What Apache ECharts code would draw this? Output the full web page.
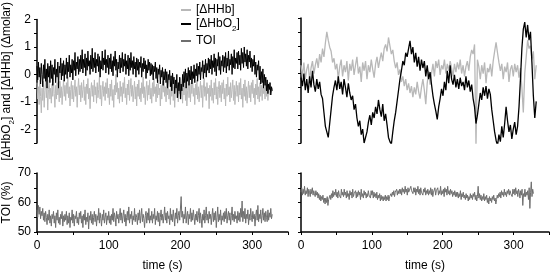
<!DOCTYPE html>
<html><head><meta charset="utf-8">
<script src="https://cdn.jsdelivr.net/npm/echarts@6/dist/echarts.min.js"></script>
<style>html,body{margin:0;padding:0;background:#fff}#c{width:552px;height:273px}</style>
</head><body><div id="c"></div>
<script>
// sample intervals (s) of the traces
const fineStep = 1;
const coarseStep = 2;
const xTicks = [0, 100, 200, 300];

// Left (first recording) [ΔHbO2], 1 s samples
const leftHbO2 = [
 0.3,-0.2,0.45,-0.1,0.25,-0.35,0.4,0.0,-0.45,0.35,-0.15,0.55,-0.25,0.2,-0.5,0.4,-0.1,0.3,-0.3,0.5,
 -0.15,0.35,-0.4,0.25,0.0,0.55,-0.3,0.2,-0.1,0.45,-0.5,0.3,0.05,0.6,-0.2,0.4,-0.05,0.5,-0.25,0.35,
 0.0,0.6,-0.15,0.45,0.1,0.7,-0.1,0.35,0.05,0.55,-0.2,0.5,0.15,0.8,-0.05,0.45,0.2,0.65,0.0,0.55,
 0.1,0.7,0.2,0.9,0.05,0.55,0.25,0.75,-0.05,0.6,0.15,0.85,0.3,0.5,0.0,0.7,0.2,0.95,0.1,0.6,
 0.25,0.8,0.05,0.55,0.3,0.75,0.1,0.65,-0.1,0.5,0.2,0.85,0.15,0.6,0.35,0.9,0.05,0.55,0.25,0.7,
 0.0,0.6,0.2,0.75,0.1,0.5,-0.05,0.65,0.3,0.85,0.15,0.55,-0.1,0.45,0.2,0.7,0.05,0.6,0.25,0.8,
 0.1,0.55,0.3,0.75,0.0,0.5,0.2,0.7,-0.05,0.6,0.15,0.8,0.25,0.5,0.0,0.65,0.2,0.45,-0.1,0.6,
 0.15,0.55,0.0,0.45,0.25,0.65,-0.1,0.4,0.1,0.6,0.2,0.5,-0.15,0.35,0.05,0.55,0.15,0.45,-0.05,0.4,
 0.0,0.35,-0.2,0.3,0.1,0.45,-0.15,0.25,-0.3,0.2,0.0,0.35,-0.35,0.15,-0.1,0.25,-0.4,0.1,-0.2,0.2,
 -0.3,0.1,-0.5,0.0,-0.2,0.15,-0.45,-0.05,-0.6,0.05,-0.35,-0.1,-0.7,-0.2,-0.5,0.0,-0.85,-0.3,-0.6,-0.1,
 -0.9,-0.35,-0.6,0.0,-0.45,0.1,-0.3,0.2,-0.5,0.05,-0.25,0.25,-0.4,0.15,-0.2,0.3,-0.35,0.1,-0.15,0.35,
 -0.3,0.2,-0.05,0.4,-0.25,0.3,0.0,0.45,-0.2,0.25,0.1,0.5,-0.15,0.35,0.05,0.55,-0.1,0.4,0.15,0.6,
 0.05,0.55,0.2,0.7,0.0,0.5,0.25,0.75,0.1,0.6,-0.05,0.55,0.3,0.8,0.15,0.65,0.0,0.5,0.3,0.7,
 0.1,0.65,0.25,0.8,0.05,0.6,0.3,0.85,0.15,0.55,0.35,0.75,0.0,0.65,0.25,0.9,0.2,0.6,0.4,0.8,
 0.2,0.85,0.35,0.7,0.15,0.95,0.4,0.8,0.25,1.0,0.45,0.75,0.3,0.9,0.2,0.7,0.45,0.85,0.25,0.6,
 0.1,0.55,0.3,0.7,0.0,0.45,-0.1,0.35,0.15,0.5,-0.2,0.3,-0.35,0.1,-0.3,0.2,-0.5,0.0,-0.4,-0.1,
 -0.6,-0.2,-0.7,-0.35,-0.55,-0.3,-0.75,-0.45,-0.6
];
// Left [ΔHHb], 1 s samples
const leftHHb = [
 -0.3,-0.9,-0.45,-1.1,-0.2,-0.8,-1.4,-0.5,-0.95,-0.25,-1.2,-0.6,-0.1,-0.85,-0.45,-1.3,-0.55,-0.2,-0.9,-0.5,
 -1.05,-0.35,-0.8,-0.15,-0.7,-1.2,-0.4,-0.9,-0.3,-0.75,-0.5,-1.0,-0.25,-0.85,-0.45,-1.1,-0.6,-0.2,-0.8,-0.4,
 -0.95,-0.3,-0.7,-0.1,-0.85,-0.45,-1.15,-0.55,-0.25,-0.9,-0.4,-1.0,-0.6,-0.2,-0.8,-0.45,-1.2,-0.5,-0.15,-0.75,
 -0.4,-1.0,-0.3,-0.85,-0.55,-0.2,-0.95,-0.45,-1.1,-0.35,-0.7,-0.15,-0.9,-0.5,-1.25,-0.6,-0.3,-0.8,-0.4,-1.0,
 -0.2,-0.75,-0.45,-1.05,-0.3,-0.85,-0.55,-0.1,-0.9,-0.4,-1.15,-0.6,-0.25,-0.8,-0.45,-0.95,-0.3,-0.7,-0.15,-0.85,
 -0.5,-1.1,-0.35,-0.8,-0.2,-0.95,-0.55,-1.2,-0.4,-0.75,0.0,-0.65,-0.3,-0.9,-0.5,-1.05,-0.25,-0.8,-0.45,-1.0,
 -0.3,-0.7,-0.1,-0.85,-0.5,-1.1,-0.35,-0.75,-0.2,-0.95,-0.55,-0.15,-0.8,-0.4,-1.0,-0.6,-0.25,-0.9,-0.45,-1.15,
 -0.35,-0.8,-0.2,-0.9,-0.5,-1.0,-0.3,-0.7,-0.1,-0.85,-0.45,-1.1,-0.55,-0.25,-0.95,-0.4,-0.75,-0.2,-0.9,-0.5,
 -1.05,-0.3,-0.8,-0.15,-0.7,-0.45,-1.0,-0.35,-0.85,-0.2,-0.75,-0.5,-1.15,-0.4,-0.9,-0.25,-0.65,-0.1,-0.8,-0.45,
 -1.0,-0.3,-0.75,-0.2,-0.9,-0.55,-1.1,-0.35,-0.8,-0.15,-0.95,-0.45,-1.2,-0.5,-0.25,-0.85,-0.4,-1.0,-0.3,-0.7,
 -0.15,-0.9,-0.5,-1.05,-0.3,-0.75,-0.2,-0.95,-0.45,-1.15,-0.6,-0.25,-0.85,-0.4,-1.0,-0.3,-0.7,-0.1,-0.8,-0.5,
 -1.1,-0.35,-0.75,-0.2,-0.9,-0.45,-1.0,-0.6,-0.25,-0.85,-0.4,-1.2,-0.5,-0.15,-0.8,-0.45,-0.95,-0.3,-0.7,-0.5,
 -1.25,-0.4,-0.8,-0.2,-0.95,-0.5,-1.05,-0.3,-0.75,-0.15,-0.9,-0.45,-1.1,-0.55,-0.25,-0.85,-0.4,-1.0,-0.3,-0.7,
 -0.2,-0.9,-0.5,-1.15,-0.35,-0.8,-0.1,-0.75,-0.45,-1.0,-0.3,-0.85,-0.55,-0.2,-0.95,-0.4,-1.1,-0.6,-0.25,-0.8,
 -0.4,-1.0,-0.3,-0.75,-0.15,-0.9,-0.5,-1.2,-0.35,-0.8,-0.2,-0.95,-0.45,-1.05,-0.6,-0.25,-0.85,-0.4,-1.0,-0.3,
 -0.7,-0.2,-0.85,-0.5,-1.1,-0.35,-0.75,-0.15,-0.9,-0.45,-1.0,-0.3,-0.8,-0.4,-0.95,-0.25,-0.7,-0.5,-0.9,-0.35,
 -0.8,-0.4,-0.95,-0.5,-0.3,-0.75,-0.45,-0.65,-0.5
];
// Right (second recording) [ΔHbO2], 2 s samples
const rightHbO2 = [
 -0.15,-0.45,0.0,-0.6,-0.2,-0.7,-0.1,-0.5,0.1,-0.4,-0.65,-0.2,-0.55,-0.3,-0.75,
 -0.9,-1.4,-1.9,-2.1,-2.3,-1.8,-1.3,-0.8,-0.5,-0.25,
 -0.6,-0.1,-0.55,-0.3,-0.75,-0.2,-0.5,-0.85,-0.35,-0.7,-0.95,
 -0.8,-1.3,-1.1,-1.6,-1.9,-1.7,-2.2,-2.0,-2.5,-2.55,
 -2.1,-1.75,-1.5,-1.85,-1.4,-1.6,-1.2,-1.45,-0.95,-1.3,-1.55,-1.1,-1.7,-1.45,-1.85,
 -2.3,-2.45,-2.55,-2.1,-1.7,-1.4,-1.0,-0.6,-0.2,0.1,0.45,0.3,0.75,0.6,0.9,
 1.18,0.7,0.95,0.4,0.75,0.25,0.6,0.1,0.5,0.2,0.45,-0.1,0.3,-0.2,0.05,
 -0.4,-0.8,-1.1,-1.35,-1.65,-1.2,-0.9,-0.55,-0.8,-0.3,-0.6,0.1,-0.35,0.3,-0.2,
 -0.4,-0.05,-0.5,-0.2,-0.55,-0.15,-0.45,-0.3,-0.6,-0.1,-0.5,-0.25,-0.65,-0.4,-0.9,
 -1.2,-1.8,-1.5,-1.1,-0.7,-0.95,-0.5,-0.8,-0.45,-0.9,-0.55,-0.75,-1.3,-1.7,-2.1,
 -2.4,-2.6,-2.2,-2.45,-1.9,-2.3,-1.8,-1.2,-1.7,-2.1,-1.85,-2.35,-2.0,-1.75,-2.2,
 -1.9,-1.2,-0.2,0.9,1.6,1.85,1.3,1.75,1.2,1.5,0.4,-0.8,-1.6,-1.0
];
// Right [ΔHHb], 2 s samples
const rightHHb = [
 0.3,-0.1,0.4,-0.2,0.15,0.35,-0.25,0.2,0.45,0.0,0.3,0.55,0.2,0.7,0.4,
 0.9,0.6,1.1,1.5,1.2,0.95,0.8,0.4,0.55,0.15,
 0.35,-0.2,0.25,0.5,-0.1,0.3,0.05,0.45,-0.25,0.35,0.1,
 0.5,-0.05,0.3,0.6,0.0,0.25,-0.3,0.4,0.1,0.45,
 -0.2,0.3,0.05,0.5,0.15,-0.15,0.35,0.6,0.2,0.5,0.75,0.45,0.9,1.05,0.8,
 1.3,1.0,0.7,0.85,0.45,0.2,0.4,-0.05,0.15,-0.3,-0.1,-0.45,-0.2,-0.6,-0.35,
 -0.7,-0.45,-0.85,-0.5,-0.75,-0.3,-0.65,-0.9,-0.5,-0.2,-0.6,-1.1,-0.35,0.1,-0.4,
 0.0,0.35,-0.1,0.45,0.2,0.5,-0.05,0.3,0.15,0.5,0.0,0.35,0.1,0.45,0.2,
 -0.1,0.35,0.05,0.4,0.15,0.5,0.0,0.3,-0.1,0.25,0.45,0.1,0.6,0.85,0.7,
 1.05,-2.6,0.5,0.25,-0.2,0.3,0.0,0.4,-0.35,0.2,0.05,0.35,-0.1,0.45,0.8,
 1.12,0.75,0.4,0.1,0.35,-0.2,0.25,0.05,0.4,-0.3,0.15,0.3,-0.1,0.35,0.05,
 0.3,-0.15,0.2,-0.5,-1.4,0.0,0.6,1.2,0.9,1.0,0.5,0.8,-0.2,0.3
];
// Left TOI (%), 1 s samples
const leftTOI = [
 57.5,55,59,56,58.5,54.5,57,55.5,58,54,56.5,53.5,57,55,52.5,56,54,57.5,53,55.5,
 52,56,54.5,57,53,55.5,51.5,56.5,54,57.5,53,55,52.5,56,54.5,57,52,55.5,53.5,56,
 54,57,52.5,55.5,53,56.5,51.5,55,54,57.5,53,56,52,55.5,54.5,57,53,55,52.5,56.5,
 54.5,57,53,55.5,51.5,56,54,57.5,52.5,55,53.5,56.5,51,55.5,54,57,53,56,52.5,55,
 57,53.5,56,52,55.5,54,58,53,56.5,54.5,52,56,54,57.5,53,55,56.5,52.5,55.5,54,
 57,53,55.5,52.5,56,54,58,53.5,56.5,55,52,57,54.5,56,53,55.5,58,54,56.5,53,
 55.5,57.5,53.5,56,52,55,57,54,58.5,53,56,54.5,57,52.5,55.5,54,58,53.5,56,55,
 52.5,56.5,54,57.5,53,55.5,58,53.5,56,54.5,51.5,55.5,57,53,56.5,54,58,53,55.5,54,
 57,53,56,54.5,58,52.5,55.5,54,57,53.5,56.5,52,55,57.5,54,56,53,55.5,58.5,54,
 56.5,53,57,54.5,55.5,52.5,58,54,56,53.5,57.5,55,52,56.5,54.5,58,53,55.5,57,54,
 53.5,62,55,57,53,56,54.5,58.5,53,55.5,57,52.5,56,54.5,58,53.5,56.5,54,57.5,55,
 52.5,56,54,57,53.5,55.5,58,53,56.5,54.5,51.5,56,54,57.5,53,55.5,58.5,54,56,53,
 57,54.5,56,52.5,55.5,58,53.5,56.5,54,57,51.5,55,58.5,53.5,56,54,57.5,52.5,55.5,54,
 56.5,53.5,57,54.5,58,53,55.5,57,54,56.5,52.5,55.5,58.5,54,56,53.5,57,54.5,55.5,53,
 57,54,56.5,53.5,58,55,60.5,53.5,57,54.5,58,53,56,54.5,57.5,52.5,56,54,58,55,
 53.5,57,54.5,56,52,55.5,57.5,54,59,53.5,56,54.5,57.5,53,55.5,58,54,56.5,53.5,57,
 55,53.5,57.5,54,56.5,55,58,54.5,56
];
// Right TOI (%), 1 s samples
const rightTOI = [
 63.5,65,62.5,64.5,63,65.5,62.5,64,63,65,62,64.5,63.5,62,64.5,63,65,62.5,64,63,
 62,64,62.5,63.5,61.5,63,61,62.5,60.5,62,61,62.5,60,61.5,59.5,61.5,60,62,59,61,
 60.5,62.5,61,63,61.5,64,62,63.5,62.5,64.5,62,63.5,61.5,64,62.5,63,61.5,64.5,62.5,63.5,
 62,64.5,62.5,63.5,61.5,64,62,63,61,64,62.5,63.5,61.5,64.5,62,63,62.5,64,61.5,63.5,
 62,64,62.5,63.5,61,64.5,62,63,61.5,64,62.5,63.5,61.5,63,62,64,62.5,63,61.5,64,
 62.5,64,61.5,63.5,62,63,61.5,63.5,61,62.5,61.5,63,60.5,62.5,61,62,60.5,62,61,62.5,
 60.5,62,61,62.5,60.5,62,61.5,63,62,63.5,62.5,64,62,63.5,63,64.5,62.5,64,63,64.5,
 63,64.5,62.5,65,63.5,64.5,63,65.5,63.5,64.5,62.5,65,63.5,64,63,65.5,64,64.5,63,65,
 63.5,65,62.5,64.5,63.5,65.5,63,64.5,62.5,65,63.5,64,62.5,64.5,63.5,65,62.5,64,63,64.5,
 62.5,64,63,65,62.5,64.5,62,63.5,63,65,62.5,64,63.5,65,62.5,64,63,65.5,62.5,64,
 63,64.5,62,65,63.5,64.5,62.5,65.5,63,64,62.5,64.5,63,64,62,63.5,62.5,64,62,63.5,
 62,63.5,61.5,63,62,64,61,63,62,63.5,61.5,62.5,61,63,61.5,62.5,60.5,62,61,63,
 61.5,62.5,61,63,62,63.5,61,62.5,60.5,62,65.5,61.5,63,61,62.5,60.5,62,61,63,60.5,
 62,61,62.5,60,61.5,59.5,62,60.5,61.5,60,62,61,62.5,60.5,61.5,59.5,61,62.5,61.5,63,
 62,63.5,61.5,64,62.5,63.5,62,64.5,62.5,63.5,62,64,63,64.5,62.5,64,63,63.5,62,64.5,
 63,64.5,62.5,65,63,64,62,64.5,63.5,61.5,64,62.5,64.5,59,63,62,64.5,62,63.5,62.5,
 64,61,65,58,63.5,67,62,64.5,63
];

const toPairs = (arr, step) => arr.map((v, i) => [i * step, v]);
const font = 'Liberation Sans, Arial, sans-serif';
const axisLineStyle = { color: '#000', width: 1.5 };

function xAxis(gridIndex, show) {
  return {
    type: 'value', gridIndex, min: 0, max: 350, interval: 50,
    show,
    axisLine: { show: true, onZero: false, lineStyle: axisLineStyle },
    axisTick: { show: true, length: 3, lineStyle: { color: '#000' } },
    splitLine: { show: false },
    axisLabel: { show: true, margin: 8, color: '#000', fontFamily: font, fontSize: 12,
      formatter: v => xTicks.includes(v) ? String(v) : '' },
    name: 'time (s)', nameLocation: 'middle', nameGap: 28,
    nameTextStyle: { color: '#000', fontFamily: font, fontSize: 12 }
  };
}
function yAxisTop(gridIndex, labels) {
  return {
    type: 'value', gridIndex, min: -2.5, max: 2, interval: 0.5,
    axisLine: { show: true, onZero: false, lineStyle: axisLineStyle },
    axisTick: { show: true, length: 3, lineStyle: { color: '#000' } },
    splitLine: { show: false },
    axisLabel: { show: labels, margin: 6, color: '#000', fontFamily: font, fontSize: 12,
      formatter: v => Number.isInteger(v) ? String(v) : '' },
    name: labels ? '[ΔHbO{sub|2}] and [ΔHHb] (Δmolar)' : '',
    nameLocation: 'middle', nameGap: 24,
    nameTextStyle: { color: '#000', fontFamily: font, fontSize: 12,
      rich: { sub: { fontSize: 8, verticalAlign: 'bottom', padding: [0,0,-3,0], fontFamily: font } } }
  };
}
function yAxisBottom(gridIndex, labels) {
  return {
    type: 'value', gridIndex, min: 50, max: 70, interval: 5,
    axisLine: { show: true, onZero: false, lineStyle: axisLineStyle },
    axisTick: { show: true, length: 3, lineStyle: { color: '#000' } },
    splitLine: { show: false },
    axisLabel: { show: labels, margin: 6, color: '#000', fontFamily: font, fontSize: 12,
      formatter: v => v % 10 === 0 ? String(v) : '' },
    name: labels ? 'TOI (%)' : '', nameLocation: 'middle', nameGap: 24,
    nameTextStyle: { color: '#000', fontFamily: font, fontSize: 12 }
  };
}
function line(name, data, step, xi, yi, color, width) {
  return { name, type: 'line', xAxisIndex: xi, yAxisIndex: yi, data: toPairs(data, step),
    showSymbol: false, symbol: 'none', lineStyle: { color, width }, itemStyle: { color },
    animation: false };
}
const cHHb = '#b8b8b8', cHbO2 = '#000000', cTOI = '#6e6e6e';
const chart = echarts.init(document.getElementById('c'), null, { renderer: 'canvas' });
chart.setOption({
  animation: false,
  textStyle: { fontFamily: font },
  grid: [
    { left: 37, top: 18, width: 251, height: 125 },
    { left: 301, top: 18, width: 251, height: 125 },
    { left: 37, top: 173, width: 251, height: 61 },
    { left: 301, top: 173, width: 251, height: 61 }
  ],
  xAxis: [xAxis(0, false), xAxis(1, false), xAxis(2, true), xAxis(3, true)],
  yAxis: [yAxisTop(0, true), yAxisTop(1, false), yAxisBottom(2, true), yAxisBottom(3, false)],
  legend: {
    orient: 'vertical', left: 176, top: -1, itemWidth: 10, itemHeight: 2, itemGap: 2,
    icon: 'rect', data: ['HHb', 'HbO2', 'TOI'],
    textStyle: { color: '#000', fontFamily: font, fontSize: 12,
      rich: { sub: { fontSize: 8, verticalAlign: 'bottom', padding: [0,0,-3,0], fontFamily: font } } },
    formatter: n => n === 'HHb' ? '[ΔHHb]' : n === 'HbO2' ? '[ΔHbO{sub|2}]' : 'TOI'
  },
  series: [
    line('HHb', leftHHb, fineStep, 0, 0, cHHb, 1),
    line('HbO2', leftHbO2, fineStep, 0, 0, cHbO2, 1),
    line('HHb', rightHHb, coarseStep, 1, 1, cHHb, 1.3),
    line('HbO2', rightHbO2, coarseStep, 1, 1, cHbO2, 1.3),
    line('TOI', leftTOI, fineStep, 2, 2, cTOI, 1),
    line('TOI', rightTOI, fineStep, 3, 3, cTOI, 1)
  ]
});
</script></body></html>
